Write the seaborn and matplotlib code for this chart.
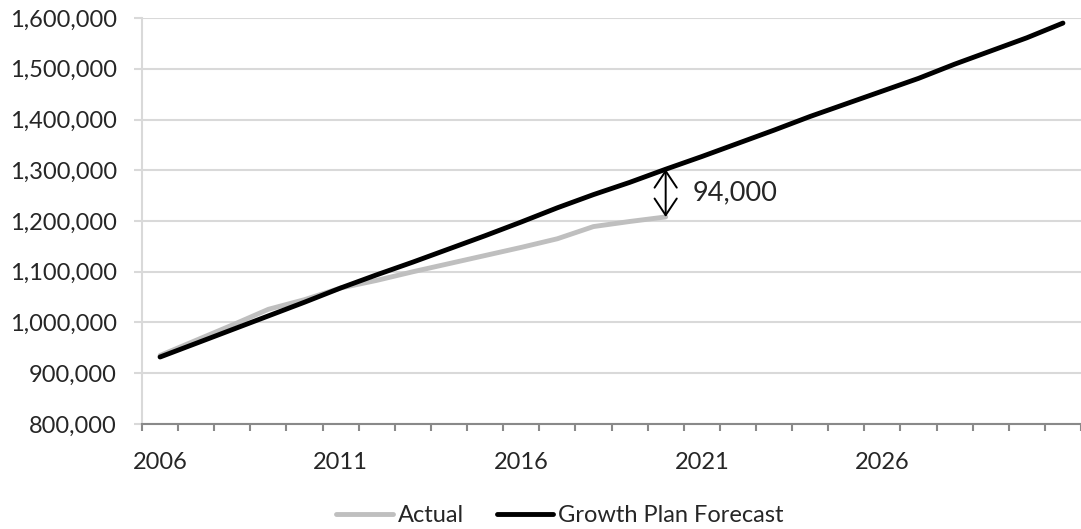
import pandas as pd
import matplotlib
matplotlib.use('Agg')
from matplotlib import pyplot
import matplotlib.ticker as ticker
import seaborn as sns

# values
years = list(range(2006, 2032))
forecast = [932000, 959000, 986000, 1013000, 1040000, 1068000, 1094000, 1119000,
			1145000, 1171000, 1198000, 1226000, 1252000, 1276000, 1302000, 1327000,
			1353000, 1379000, 1406000, 1431000, 1456000, 1481000, 1509000, 1535000,
			1561000, 1590000]
actual_years = list(range(2006, 2021))
actual = [935000, 965000, 995000, 1026000, 1045000, 1068000, 1083000, 1100000,
		  1116000, 1132000, 1148000, 1165000, 1189000, 1199000, 1208000]
label_years = [2006, 2011, 2016, 2021, 2026]
gap_text = '94,000'

df_act = pd.DataFrame({'year': actual_years, 'value': actual})
df_fc = pd.DataFrame({'year': years, 'value': forecast})

sns.set_theme(style="white")
pyplot.rcParams['font.family'] = ['Lato', 'DejaVu Sans']

fig = pyplot.figure(figsize=(10.81, 5.29), dpi=100)
ax = fig.add_axes([142/1081, 1 - 424/529, 1 - 142/1081, (424 - 18)/529])

sns.lineplot(data=df_act, x='year', y='value', ax=ax, color='#bfbfbf', linewidth=3.5,
			 label='Actual', solid_capstyle='round')
sns.lineplot(data=df_fc, x='year', y='value', ax=ax, color='black', linewidth=3.5,
			 label='Growth Plan Forecast', solid_capstyle='round')

ax.set_xlim(years[0] - 0.5, years[0] - 0.5 + (1081 - 142)/36.4)
ax.set_ylim(800000, 1600000)
ax.set_yticks(range(800000, 1600001, 100000))
ax.yaxis.set_major_formatter(ticker.FuncFormatter(lambda v, p: '{:,.0f}'.format(v)))
ax.set_xticks(label_years)
ax.set_xticklabels([str(y) for y in label_years])
ax.set_xticks([y - 0.5 for y in years] + [years[-1] + 0.5], minor=True)
ax.set_xlabel('')
ax.set_ylabel('')

ax.grid(axis='y', color='#d9d9d9', linewidth=1.5)
ax.set_axisbelow(True)
for s in ['top', 'right']:
	ax.spines[s].set_visible(False)
ax.spines['left'].set_color('#d9d9d9')
ax.spines['left'].set_linewidth(1.5)
ax.spines['bottom'].set_color('#898989')
ax.spines['bottom'].set_linewidth(1.5)

ax.tick_params(axis='y', which='major', length=6, width=1.5, color='#d9d9d9', pad=12,
			   labelsize=17, labelcolor='#262626', left=True)
ax.tick_params(axis='x', which='major', length=0, pad=20, labelsize=17, labelcolor='#262626')
ax.tick_params(axis='x', which='minor', length=5, width=1.5, color='#898989', bottom=True)

# gap between forecast and actual in 2020
ax.annotate('', xy=(2020, forecast[14]), xytext=(2020, actual[-1]),
			arrowprops=dict(arrowstyle='<->, head_length=0.6, head_width=0.4',
							color='black', linewidth=1.4, mutation_scale=20,
							shrinkA=0, shrinkB=0))
ax.text(2020.75, (forecast[14] + actual[-1]) / 2, gap_text, fontsize=19.5,
		color='#262626', va='center', ha='left')

ax.get_legend().remove()
handles, labels = ax.get_legend_handles_labels()
fig.legend(handles, labels, loc='center', bbox_to_anchor=(0.518, 1 - 516/529), ncol=2,
		   frameon=False, fontsize=17, handlelength=2.4, handletextpad=0.2,
		   columnspacing=1.4, labelcolor='#262626')

pyplot.savefig('out.png', dpi=100)
